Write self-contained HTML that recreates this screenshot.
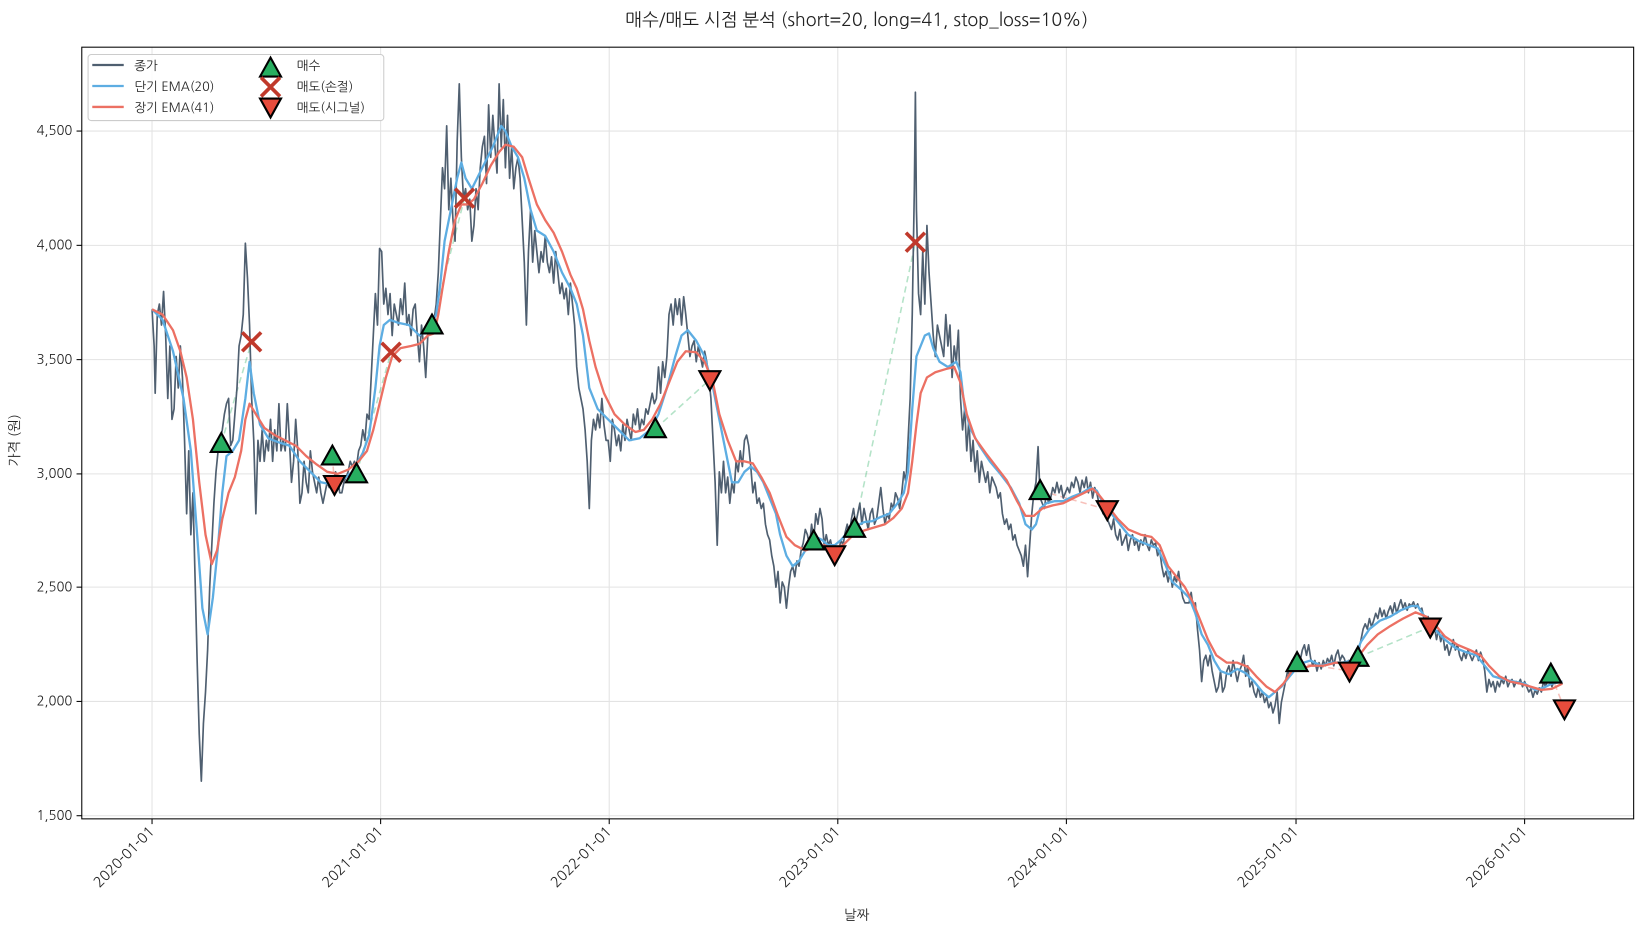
<!DOCTYPE html>
<html><head><meta charset="utf-8"><style>html,body{margin:0;padding:0;background:#fff}svg{display:block}text{font-family:"NanumGothic","Liberation Sans","Noto Sans CJK KR",sans-serif;fill:#222}</style></head><body>
<svg width="1641" height="930" viewBox="0 0 1565 887" preserveAspectRatio="none" xmlns="http://www.w3.org/2000/svg">
<text x="817" y="25" font-size="17" text-anchor="middle">매수/매도 시점 분석 (short=20, long=41, stop_loss=10%)</text>
<g stroke="#e3e3e3" stroke-width="1">
<line x1="145" y1="45" x2="145" y2="781"/><line x1="363" y1="45" x2="363" y2="781"/><line x1="581" y1="45" x2="581" y2="781"/><line x1="799" y1="45" x2="799" y2="781"/><line x1="1017" y1="45" x2="1017" y2="781"/><line x1="1236" y1="45" x2="1236" y2="781"/><line x1="1454" y1="45" x2="1454" y2="781"/>
<line x1="78" y1="778" x2="1558" y2="778"/><line x1="78" y1="669" x2="1558" y2="669"/><line x1="78" y1="560" x2="1558" y2="560"/><line x1="78" y1="452" x2="1558" y2="452"/><line x1="78" y1="343" x2="1558" y2="343"/><line x1="78" y1="234" x2="1558" y2="234"/><line x1="78" y1="125" x2="1558" y2="125"/>
</g>
<g stroke-dasharray="6,4" stroke-width="1.5" fill="none" opacity="0.35">
<line x1="211" y1="423" x2="240" y2="326" stroke="#27ae60"/><line x1="317" y1="435" x2="319" y2="462" stroke="#e74c3c"/><line x1="340" y1="452" x2="373" y2="336" stroke="#27ae60"/><line x1="412" y1="310" x2="443" y2="189" stroke="#27ae60"/><line x1="625" y1="409" x2="677" y2="362" stroke="#27ae60"/><line x1="776" y1="516" x2="796" y2="529" stroke="#e74c3c"/><line x1="815" y1="504" x2="873" y2="231" stroke="#27ae60"/><line x1="992" y1="468" x2="1056" y2="486" stroke="#e74c3c"/><line x1="1237" y1="632" x2="1287" y2="640" stroke="#e74c3c"/><line x1="1295" y1="627" x2="1364" y2="598" stroke="#27ae60"/><line x1="1479" y1="643" x2="1492" y2="676" stroke="#e74c3c"/>
</g>
<polyline fill="none" stroke="#4f5f70" stroke-width="1.6" stroke-linejoin="round" points="145,295 147,330 148,375 150,300 152,290 154,310 156,278 158,320 160,380 162,330 164,400 166,390 168,340 170,370 172,330 174,360 176,420 178,490 180,430 182,510 184,470 186,550 188,630 190,700 192,745 194,690 196,660 198,620 200,560 202,520 204,480 206,450 208,430 210,420 212,410 214,395 216,385 218,380 220,425 222,420 224,395 226,370 228,330 230,320 232,300 234,232 236,265 238,310 240,380 242,420 244,490 246,420 248,440 250,410 252,440 254,420 256,430 258,400 260,440 262,410 264,430 266,385 268,430 270,420 272,430 274,385 276,420 278,460 280,440 282,400 284,430 286,480 288,470 290,440 292,460 294,470 296,430 298,450 300,460 302,470 304,455 306,470 308,480 310,470 312,460 314,465 316,455 318,460 320,450 322,455 324,470 326,470 328,460 330,455 332,450 334,440 336,445 338,440 340,445 342,430 344,425 346,410 348,420 350,395 352,400 354,360 356,320 358,280 360,310 362,237 364,240 366,290 368,275 370,300 372,280 374,320 376,290 378,300 380,310 382,285 384,300 386,270 388,310 390,300 392,320 394,295 396,290 398,320 400,345 402,310 404,330 406,360 408,320 410,310 412,300 414,305 416,290 418,260 420,210 422,160 424,180 426,120 428,200 430,170 432,210 434,230 436,135 438,80 440,150 442,190 444,180 446,200 448,190 450,230 452,215 454,180 456,200 458,160 460,140 462,130 464,175 466,100 468,150 470,110 472,140 474,165 476,80 478,140 480,95 482,160 484,110 486,170 488,140 490,180 492,160 494,150 496,170 498,210 500,250 502,310 504,240 506,200 508,250 510,220 512,240 514,260 516,240 518,250 520,225 522,250 524,260 526,245 528,270 530,240 532,260 534,280 536,270 538,285 540,275 542,300 544,270 546,290 548,310 550,350 552,370 554,380 556,390 558,410 560,440 562,485 564,420 566,400 568,410 570,395 572,408 574,380 576,405 578,420 580,420 582,440 584,400 586,410 588,425 590,415 592,430 594,405 596,420 598,400 600,410 602,420 604,395 606,405 608,390 610,410 612,400 614,405 616,390 618,395 620,385 622,375 624,385 626,380 628,350 630,375 632,345 634,360 636,340 638,300 640,290 642,310 644,285 646,300 648,285 650,310 652,283 654,300 656,320 658,340 660,330 662,325 664,345 666,330 668,340 670,350 672,335 674,345 676,360 678,380 680,420 682,460 684,520 686,450 688,470 690,440 692,470 694,455 696,480 698,460 700,470 702,440 704,450 706,430 708,445 710,420 712,415 714,425 716,445 718,470 720,460 722,480 724,475 726,485 728,480 730,500 732,510 734,515 736,530 738,540 740,560 742,545 744,575 746,555 748,560 750,580 752,560 754,545 756,540 758,550 760,535 762,540 764,525 766,518 768,505 770,510 772,520 774,500 776,515 778,490 780,500 782,485 784,495 786,520 788,510 790,520 792,515 794,525 796,530 798,535 800,525 802,515 804,520 806,508 808,500 810,510 812,495 814,485 816,500 818,490 820,480 822,500 824,485 826,495 828,505 830,490 832,485 834,500 836,495 838,480 840,465 842,485 844,500 846,490 848,495 850,480 852,485 854,470 856,475 858,485 860,470 862,450 864,460 866,420 868,380 870,300 872,180 873,88 874,200 876,280 878,300 880,240 882,290 884,215 886,260 888,290 890,320 892,340 894,310 896,320 898,330 900,340 902,300 904,330 906,310 908,360 910,330 912,345 914,315 916,380 918,410 920,390 922,430 924,400 926,440 928,420 930,450 932,430 934,460 936,440 938,450 940,460 942,450 944,470 946,455 948,460 950,465 952,475 954,470 956,490 958,500 960,495 962,505 964,500 966,515 968,510 970,520 972,525 974,530 976,540 978,520 980,550 982,520 984,490 986,470 988,460 990,426 992,475 994,480 996,485 998,470 1000,480 1002,475 1004,465 1006,470 1008,460 1010,470 1012,463 1014,475 1016,470 1018,465 1020,470 1022,460 1024,465 1026,455 1028,460 1030,470 1032,458 1034,465 1036,455 1038,470 1040,460 1042,475 1044,465 1046,470 1048,480 1050,482 1052,490 1054,485 1056,495 1058,500 1060,505 1062,495 1064,510 1066,515 1068,505 1070,520 1072,515 1074,510 1076,525 1078,515 1080,510 1082,520 1084,515 1086,525 1088,515 1090,520 1092,510 1094,520 1096,525 1098,515 1100,520 1102,518 1104,530 1106,525 1108,540 1110,550 1112,545 1114,555 1116,545 1118,560 1120,550 1122,555 1124,545 1126,560 1128,570 1130,575 1132,575 1134,575 1136,565 1138,580 1140,575 1142,600 1144,620 1146,650 1148,630 1150,625 1152,635 1154,625 1156,640 1158,650 1160,660 1162,655 1164,640 1166,660 1168,655 1170,640 1172,635 1174,645 1176,630 1178,640 1180,650 1182,640 1184,635 1186,625 1188,645 1190,635 1192,655 1194,650 1196,660 1198,665 1200,655 1202,665 1204,660 1206,670 1208,665 1210,675 1212,670 1214,680 1216,673 1218,660 1220,690 1222,670 1224,660 1226,650 1228,640 1230,645 1232,630 1234,640 1236,632 1238,625 1240,630 1242,620 1244,615 1246,625 1248,615 1250,628 1252,635 1254,630 1256,640 1258,632 1260,638 1262,630 1264,635 1266,628 1268,632 1270,625 1272,635 1274,625 1276,620 1278,630 1280,625 1282,628 1284,635 1286,630 1288,632 1290,640 1292,625 1294,630 1296,620 1298,610 1300,600 1302,595 1304,600 1306,590 1308,598 1310,592 1312,585 1314,590 1316,580 1318,588 1320,582 1322,590 1324,583 1326,578 1328,585 1330,575 1332,585 1334,578 1336,572 1338,580 1340,575 1342,582 1344,576 1346,578 1348,574 1350,580 1352,576 1354,582 1356,580 1358,590 1360,595 1362,588 1364,600 1366,605 1368,598 1370,610 1372,600 1374,612 1376,605 1378,620 1380,615 1382,625 1384,618 1386,610 1388,620 1390,615 1392,625 1394,630 1396,622 1398,628 1400,620 1402,625 1404,630 1406,625 1408,620 1410,630 1412,622 1414,628 1416,640 1418,660 1420,648 1422,655 1424,650 1426,660 1428,650 1430,655 1432,648 1434,652 1436,645 1438,655 1440,650 1442,648 1444,655 1446,650 1448,652 1450,648 1452,655 1454,650 1456,655 1458,660 1460,657 1462,665 1464,658 1466,662 1468,656 1470,660 1472,650 1474,655 1476,648 1478,645 1480,655 1482,650 1484,645 1486,650 1490,650"/>
<polyline fill="none" stroke="#5dade2" stroke-width="2.2" stroke-linejoin="round" points="145,295 155,305 165,335 175,380 182,430 188,510 193,580 198,605 203,570 208,520 212,470 216,435 222,430 228,420 234,380 238,345 242,375 248,405 256,418 266,422 276,425 286,440 296,450 306,460 316,462 326,458 336,450 346,432 352,415 358,370 362,330 366,310 372,305 380,308 390,310 400,320 410,312 416,300 420,270 424,230 430,200 436,170 440,155 444,170 450,180 460,160 470,140 478,120 482,125 488,140 494,150 500,170 506,200 512,220 520,225 528,240 536,260 544,275 550,290 556,320 562,370 570,390 580,400 590,410 600,420 610,418 620,410 628,395 636,370 644,340 650,320 656,315 664,325 672,340 680,370 686,400 692,430 698,460 704,460 710,450 716,445 722,450 728,460 734,475 740,490 744,510 750,530 756,540 762,535 768,525 772,516 778,512 784,515 790,520 796,520 802,515 808,508 816,502 824,498 832,497 840,493 848,490 856,480 862,470 866,450 870,390 874,340 878,330 882,320 886,318 890,332 896,345 904,350 912,345 916,355 920,390 926,410 934,425 944,440 954,452 964,465 972,480 978,500 984,505 988,500 992,485 998,480 1006,478 1014,478 1022,474 1032,470 1040,465 1046,468 1052,480 1060,490 1068,500 1076,510 1086,516 1096,520 1104,523 1112,540 1118,555 1126,562 1134,570 1140,585 1146,605 1152,615 1158,630 1164,640 1172,643 1180,638 1188,642 1196,650 1204,660 1210,665 1216,660 1222,655 1230,645 1240,633 1250,630 1260,635 1270,632 1280,632 1290,630 1298,612 1306,600 1316,592 1326,588 1336,582 1346,578 1352,578 1360,590 1368,600 1378,610 1388,618 1398,622 1408,625 1416,635 1424,645 1434,648 1444,650 1454,652 1464,658 1472,656 1480,652 1490,650"/>
<polyline fill="none" stroke="#ec7063" stroke-width="2.2" stroke-linejoin="round" points="145,295 155,300 165,315 172,335 178,360 184,400 190,460 196,510 202,538 207,525 212,495 218,470 224,455 230,430 234,400 238,385 244,395 252,408 262,415 272,420 282,425 292,435 302,443 312,450 322,452 332,448 342,440 350,430 356,410 362,385 368,360 374,340 382,332 392,330 400,328 408,320 414,318 418,300 422,275 428,240 434,210 440,195 446,195 452,190 460,175 468,158 476,145 482,138 490,140 498,150 504,170 512,195 520,210 528,222 536,240 544,262 550,275 556,295 562,325 568,350 576,375 586,395 596,405 606,412 614,410 622,400 630,385 638,365 646,345 654,335 664,336 672,345 680,365 686,395 694,420 702,440 710,440 718,442 726,455 734,470 742,492 750,512 758,520 768,525 778,522 786,520 794,523 804,520 814,510 824,506 834,503 844,500 852,494 860,485 866,470 870,440 874,405 878,375 884,360 892,355 902,352 910,350 916,365 922,395 930,418 940,432 950,445 960,458 970,478 978,492 986,492 994,485 1004,482 1014,480 1024,475 1034,470 1042,466 1048,472 1056,482 1066,495 1076,505 1088,510 1098,512 1106,520 1114,540 1122,550 1130,560 1138,575 1146,595 1152,610 1160,625 1170,632 1180,632 1190,636 1198,645 1208,655 1216,660 1224,652 1232,640 1240,638 1250,635 1262,635 1274,632 1284,633 1294,628 1304,615 1314,605 1326,597 1338,590 1350,584 1360,588 1368,595 1378,607 1390,615 1402,620 1412,625 1420,635 1430,645 1440,650 1450,652 1460,655 1470,658 1480,657 1490,652"/>
<g fill="#27ae60" stroke="#000" stroke-width="2" stroke-linejoin="miter">
<path d="M211,413 l10,18 h-20z"/><path d="M317,425 l10,18 h-20z"/><path d="M340,442 l10,18 h-20z"/><path d="M412,300 l10,18 h-20z"/><path d="M625,399 l10,18 h-20z"/><path d="M776,506 l10,18 h-20z"/><path d="M815,494 l10,18 h-20z"/><path d="M992,458 l10,18 h-20z"/><path d="M1237,622 l10,18 h-20z"/><path d="M1295,617 l10,18 h-20z"/><path d="M1479,633 l10,18 h-20z"/>
</g>
<g fill="#e74c3c" stroke="#000" stroke-width="2">
<path d="M319,472 l10,-18 h-20z"/><path d="M677,372 l10,-18 h-20z"/><path d="M796,539 l10,-18 h-20z"/><path d="M1056,496 l10,-18 h-20z"/><path d="M1287,650 l10,-18 h-20z"/><path d="M1364,608 l10,-18 h-20z"/><path d="M1492,686 l10,-18 h-20z"/>
</g>
<g stroke="#c0392b" stroke-width="3.5">
<path d="M231,317 l18,18 M249,317 l-18,18"/><path d="M364,327 l18,18 M382,327 l-18,18"/><path d="M434,180 l18,18 M452,180 l-18,18"/><path d="M864,222 l18,18 M882,222 l-18,18"/>
</g>
<rect x="78" y="45" width="1480" height="736" fill="none" stroke="#000" stroke-width="1"/>
<g stroke="#000"><line x1="73" y1="778" x2="78" y2="778"/><line x1="73" y1="669" x2="78" y2="669"/><line x1="73" y1="560" x2="78" y2="560"/><line x1="73" y1="452" x2="78" y2="452"/><line x1="73" y1="343" x2="78" y2="343"/><line x1="73" y1="234" x2="78" y2="234"/><line x1="73" y1="125" x2="78" y2="125"/>
<line x1="145" y1="781" x2="145" y2="786"/><line x1="363" y1="781" x2="363" y2="786"/><line x1="581" y1="781" x2="581" y2="786"/><line x1="799" y1="781" x2="799" y2="786"/><line x1="1017" y1="781" x2="1017" y2="786"/><line x1="1236" y1="781" x2="1236" y2="786"/><line x1="1454" y1="781" x2="1454" y2="786"/></g>
<g font-size="12.5" text-anchor="end">
<text x="69" y="782">1,500</text><text x="69" y="673">2,000</text><text x="69" y="564">2,500</text><text x="69" y="456">3,000</text><text x="69" y="347">3,500</text><text x="69" y="238">4,000</text><text x="69" y="129">4,500</text>
</g>
<g font-size="13.5" text-anchor="end">
<text transform="translate(148,794) rotate(-45)">2020-01-01</text><text transform="translate(366,794) rotate(-45)">2021-01-01</text><text transform="translate(584,794) rotate(-45)">2022-01-01</text><text transform="translate(802,794) rotate(-45)">2023-01-01</text><text transform="translate(1020,794) rotate(-45)">2024-01-01</text><text transform="translate(1239,794) rotate(-45)">2025-01-01</text><text transform="translate(1457,794) rotate(-45)">2026-01-01</text>
</g>
<text x="817" y="877" font-size="13" text-anchor="middle">날짜</text>
<text transform="translate(18,420) rotate(-90)" font-size="13" text-anchor="middle">가격 (원)</text>
<rect x="84" y="52" width="282" height="63" rx="3" fill="#fff" fill-opacity="0.85" stroke="#ccc"/>
<g stroke-width="2.2"><line x1="88" y1="62" x2="118" y2="62" stroke="#4f5f70"/><line x1="88" y1="82" x2="118" y2="82" stroke="#5dade2"/><line x1="88" y1="102" x2="118" y2="102" stroke="#ec7063"/></g>
<g font-size="12"><text x="128" y="67">종가</text><text x="128" y="87">단기 EMA(20)</text><text x="128" y="107">장기 EMA(41)</text><text x="283" y="67">매수</text><text x="283" y="87">매도(손절)</text><text x="283" y="107">매도(시그널)</text></g>
<path d="M258,55 l10,18 h-20z" fill="#27ae60" stroke="#000" stroke-width="2"/>
<path d="M249,74 l18,18 M267,74 l-18,18" stroke="#c0392b" stroke-width="3.5"/>
<path d="M258,112 l10,-18 h-20z" fill="#e74c3c" stroke="#000" stroke-width="2"/>
</svg>
</body></html>
